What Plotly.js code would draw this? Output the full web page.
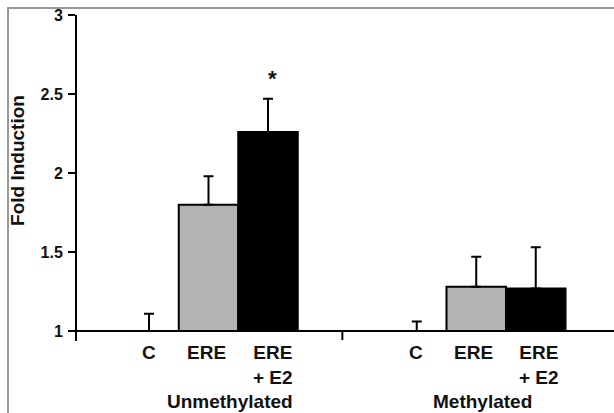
<!DOCTYPE html>
<html>
<head>
<meta charset="utf-8">
<script src="https://cdn.plot.ly/plotly-3.0.1.min.js"></script>
<style>
  html, body { margin: 0; padding: 0; background: #fff; }
  #wrap { position: relative; width: 614px; height: 413px; overflow: hidden; }
  #chart { width: 614px; height: 413px; }
  #frame { position: absolute; left: 7px; top: 7px; width: 640px; height: 440px;
           border-left: 2px solid #999; border-top: 2px solid #999; pointer-events: none; }
</style>
</head>
<body>
<div id="wrap"><div id="chart"></div><div id="frame"></div></div>
<script>
// ---- data ----
var positions   = [0, 1, 2, 4.5, 5.5, 6.5];
var barLabels   = ["C", "ERE", "ERE<br>+ E2", "C", "ERE", "ERE<br>+ E2"];
var labelPositions = [0, 0.96, 2.08, 4.49, 5.46, 6.56];
var foldValues  = [1.00, 1.80, 2.26, 1.00, 1.28, 1.27];
var errorValues = [0.11, 0.18, 0.21, 0.06, 0.19, 0.26];
var barColors   = ["#b3b3b3", "#b3b3b3", "#000000", "#b3b3b3", "#b3b3b3", "#000000"];
var groupNames  = ["Unmethylated", "Methylated"];
var groupCenters = [1.36, 5.61];
var groupDivider = 3.25;
var yTicks      = [1, 1.5, 2, 2.5, 3];
var yTickText   = ["1", "1.5", "2", "2.5", "3"];
var baseline    = 1;
var significant = [false, false, true, false, false, false];

var font = "Liberation Sans, Arial, sans-serif";

var trace = {
  type: "bar",
  x: positions,
  y: foldValues.map(function (v) { return v - baseline; }),
  base: baseline,
  width: 1,
  marker: { color: barColors, line: { color: "#000", width: 2 } },
  error_y: { type: "data", symmetric: false, array: errorValues,
             arrayminus: errorValues.map(function () { return 0; }),
             color: "#000", thickness: 2, width: 5 },
  hoverinfo: "none"
};

var annotations = [];
positions.forEach(function (p, i) {
  annotations.push({ x: labelPositions[i], y: baseline, xref: "x", yref: "y", text: "<b>" + barLabels[i] + "</b>",
    showarrow: false, yanchor: "top", yshift: -9, font: { family: font, size: 19, color: "#111" } });
  if (significant[i]) {
    annotations.push({ x: labelPositions[i], y: foldValues[i] + errorValues[i], xref: "x", yref: "y", text: "<b>*</b>",
      showarrow: false, yanchor: "bottom", yshift: 6, font: { family: font, size: 22, color: "#111" } });
  }
});
groupNames.forEach(function (g, i) {
  annotations.push({ x: groupCenters[i], y: baseline, xref: "x", yref: "y", text: "<b>" + g + "</b>",
    showarrow: false, yanchor: "top", yshift: -58, font: { family: font, size: 19, color: "#111" } });
});
annotations.push({ x: -0.112, y: 0.555, xref: "paper", yref: "paper", xanchor: "center", yanchor: "middle",
  text: "<b>Fold Induction</b>",
  textangle: -90, showarrow: false, font: { family: font, size: 19, color: "#111" } });

var layout = {
  width: 614, height: 413,
  margin: { l: 77, r: 0, t: 15, b: 72 },
  paper_bgcolor: "#fff", plot_bgcolor: "#fff",
  showlegend: false,
  xaxis: { range: [-1.21, 7.815], showgrid: false, zeroline: false, showline: false,
           showticklabels: false, ticks: "", fixedrange: true },
  yaxis: { range: [0.937, 3], showgrid: false, zeroline: false, showline: true,
           linecolor: "#000", linewidth: 2, ticks: "outside", ticklen: 7, tickwidth: 2,
           tickcolor: "#000", tickvals: yTicks, ticktext: yTickText, ticklabelstandoff: 2,
           tickfont: { family: font, size: 16, color: "#111", weight: "bold" }, fixedrange: true },
  shapes: [
    { type: "line", xref: "paper", yref: "y", x0: 0, x1: 1, y0: baseline, y1: baseline,
      line: { color: "#000", width: 2 } },
    { type: "line", xref: "x", yref: "paper", x0: groupDivider, x1: groupDivider, y0: 0.03, y1: 0.003,
      line: { color: "#000", width: 2 } }
  ],
  annotations: annotations
};

Plotly.newPlot("chart", [trace], layout, { staticPlot: true, displayModeBar: false });
</script>
</body>
</html>
